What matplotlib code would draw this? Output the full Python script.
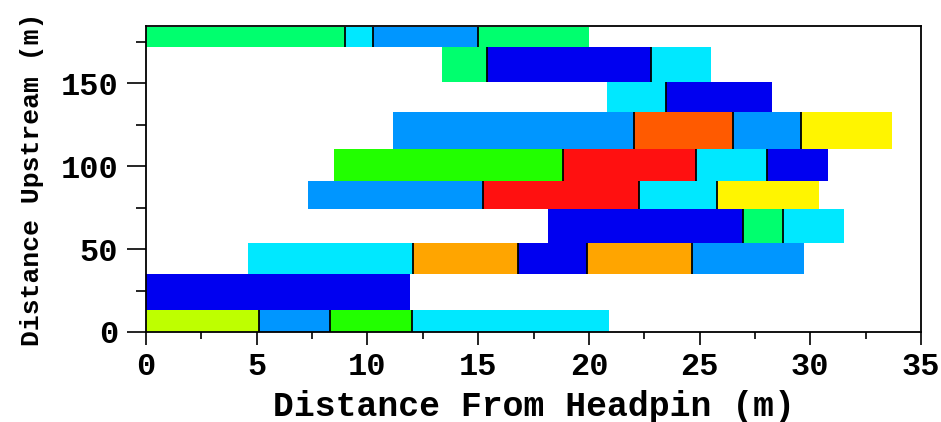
import matplotlib
matplotlib.use("Agg")
from matplotlib import pyplot as plt

# colour names used in the patch map
SPRING = '#00FF6E'
CYAN = '#00E8FF'
DODGER = '#0096FF'
BLUE = '#0000F0'
GREEN = '#22FF00'
RED = '#FF1010'
ORANGERED = '#FF5A00'
ORANGE = '#FFA500'
YELLOW = '#FFF500'
LIME = '#BEFF00'

# each row: upstream extent (m) + boundaries along headpin distance (m)
row_bottom = [0, 13, 35, 54, 74, 91, 110.5, 133, 151, 172]
row_top = [13, 35, 54, 74, 91, 110.5, 133, 151, 172, 184]
row_edges = [
    [0, 5.1, 8.3, 12.0, 20.9],
    [0, 11.9],
    [4.6, 12.05, 16.8, 19.9, 24.65, 29.7],
    [18.15, 26.95, 28.75, 31.5],
    [7.3, 15.2, 22.25, 25.8, 30.4],
    [8.5, 18.85, 24.85, 28.05, 30.8],
    [11.15, 22.05, 26.5, 29.6, 33.7],
    [20.8, 23.5, 28.25],
    [13.35, 15.4, 22.8, 25.5],
    [0, 9.0, 10.25, 15.0, 20.0],
]
row_colors = [
    [LIME, DODGER, GREEN, CYAN],
    [BLUE],
    [CYAN, ORANGE, BLUE, ORANGE, DODGER],
    [BLUE, SPRING, CYAN],
    [DODGER, RED, CYAN, YELLOW],
    [GREEN, RED, CYAN, BLUE],
    [DODGER, ORANGERED, DODGER, YELLOW],
    [CYAN, BLUE],
    [SPRING, BLUE, CYAN],
    [SPRING, CYAN, DODGER, SPRING],
]

plt.rcParams['font.family'] = ['Liberation Mono', 'DejaVu Sans Mono']

fig = plt.figure(figsize=(9.41, 4.22), dpi=100)
ax = fig.add_axes([0.1552, 0.2133, 0.8236, 0.7245])

for bot, top, edges, cols in zip(row_bottom, row_top, row_edges, row_colors):
    lefts = edges[:-1]
    widths = [b - a for a, b in zip(edges[:-1], edges[1:])]
    ax.barh(bot, widths, left=lefts, height=top - bot, align='edge',
            color=cols, linewidth=0)
    # thin black joints between neighbouring patches
    if len(edges) > 2:
        ax.vlines(edges[1:-1], bot, top, color='black', linewidth=1.3)

ax.set_xlim(0, 35)
ax.set_ylim(0, 184.5)
ax.set_xticks(range(0, 36, 5))
ax.set_xticks([2.5 + 5 * i for i in range(7)], minor=True)
ax.set_yticks([0, 50, 100, 150])
ax.set_yticks([25, 75, 125, 175], minor=True)
ax.tick_params(axis='x', which='major', direction='out', length=9.5, width=1.2,
               labelsize=23, pad=5)
ax.tick_params(axis='x', which='minor', direction='out', length=5, width=1.2)
ax.tick_params(axis='y', which='major', direction='out', length=14, width=1.2,
               labelsize=23, pad=6)
ax.tick_params(axis='y', which='minor', direction='out', length=7, width=1.2)
for s in ax.spines.values():
    s.set_linewidth(1.3)

ax.set_xlabel('Distance From Headpin (m)', fontsize=25, fontweight='bold', labelpad=6)
ax.set_ylabel('Distance Upstream (m)', fontsize=19, fontweight='bold', labelpad=12)
for lab in ax.get_xticklabels() + ax.get_yticklabels():
    lab.set_fontweight('bold')

fig.savefig('out.png', dpi=100)
